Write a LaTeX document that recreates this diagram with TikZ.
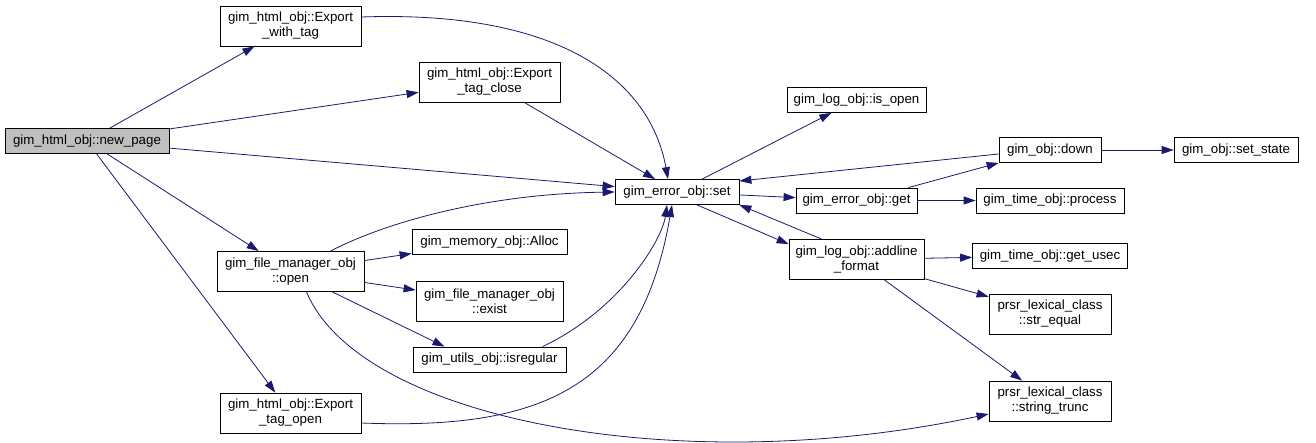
\documentclass[tikz,border=0pt]{standalone}
\usepackage{fontspec}
\setmainfont{Liberation Sans}
\usepackage{xcolor}
\usepackage{tikz}
\usetikzlibrary{arrows.meta, positioning, calc}

\definecolor{edgeblue}{RGB}{25,25,112}
\definecolor{callgray}{RGB}{191,191,191}

\begin{document}
\begin{tikzpicture}[
    x=1pt, y=-1pt,
    box/.style={draw, rectangle, fill=white, line width=0.8pt, minimum height=25pt, inner sep=0pt, text centered, align=center, font=\fontsize{13.3pt}{15pt}\selectfont},
    twoline/.style={minimum height=40pt},
    arrow/.style={draw=edgeblue, line width=0.8pt, -{Triangle[length=12pt,width=8pt]}}
]
\useasboundingbox (0,0) rectangle (1316,443);

% Caller
\node (newpage) [box, fill=callgray, minimum width=164pt] at (87,141) {gim\_html\_obj::new\_page};

% First level
\node (withtag) [box, twoline, minimum width=141pt] at (290.5,26) {gim\_html\_obj::Export\\\_with\_tag};
\node (fmopen) [box, twoline, minimum width=147pt] at (290.5,271.5) {gim\_file\_manager\_obj\\::open};
\node (tagopen) [box, twoline, minimum width=141pt] at (290.5,413) {gim\_html\_obj::Export\\\_tag\_open};

% Second level
\node (tagclose) [box, twoline, minimum width=141pt] at (489.5,82) {gim\_html\_obj::Export\\\_tag\_close};
\node (alloc) [box, minimum width=155pt] at (489.5,242) {gim\_memory\_obj::Alloc};
\node (exist) [box, twoline, minimum width=147pt] at (489.5,301) {gim\_file\_manager\_obj\\::exist};
\node (isregular) [box, minimum width=153pt] at (489.5,359.5) {gim\_utils\_obj::isregular};
\node (errset) [box, minimum width=124pt] at (677,192) {gim\_error\_obj::set};

% Third level
\node (isopen) [box, minimum width=139pt] at (856.5,100) {gim\_log\_obj::is\_open};
\node (errget) [box, minimum width=121pt] at (856.5,200.5) {gim\_error\_obj::get};
\node (addline) [box, twoline, minimum width=135pt] at (856.5,259.5) {gim\_log\_obj::addline\\\_format};

% Fourth level
\node (down) [box, minimum width=102pt] at (1050,150) {gim\_obj::down};
\node (process) [box, minimum width=148pt] at (1050,200.5) {gim\_time\_obj::process};
\node (getusec) [box, minimum width=155pt] at (1050,256) {gim\_time\_obj::get\_usec};
\node (strequal) [box, twoline, minimum width=122pt] at (1050,314) {prsr\_lexical\_class\\::str\_equal};
\node (strtrunc) [box, twoline, minimum width=122pt] at (1050,401) {prsr\_lexical\_class\\::string\_trunc};
\node (setstate) [box, minimum width=124pt] at (1236,150) {gim\_obj::set\_state};

% Calls of new_page
\draw [arrow] (newpage) -- (withtag);
\draw [arrow] (newpage) -- (tagclose);
\draw [arrow] (newpage) -- (errset);
\draw [arrow] (newpage) -- (fmopen);
\draw [arrow] (newpage) -- (tagopen);

% Calls into gim_error_obj::set
\draw [arrow] ([yshift=9pt]withtag.east) .. controls (560,10) and (650,80) .. ([xshift=-9pt]errset.north);
\draw [arrow] (tagclose) -- (errset);
\draw [arrow] ([xshift=40pt]fmopen.north) .. controls (380,225) and (480,194) .. (errset.west);
\draw [arrow] ([xshift=53pt]isregular.north) .. controls (620,310) and (662,240) .. ([xshift=-10pt]errset.south);
\draw [arrow] ([yshift=-10pt]tagopen.east) .. controls (540,430) and (640,390) .. ([xshift=-5pt]errset.south);
\draw [arrow] ([yshift=-4pt]down.west) -- ([yshift=11pt]errset.east);
\draw [arrow] ([xshift=33pt]addline.north west) -- (errset.south east);

% Calls of gim_file_manager_obj::open
\draw [arrow] (fmopen) -- (alloc);
\draw [arrow] (fmopen) -- (exist);
\draw [arrow] (fmopen) -- ([xshift=-45pt]isregular.north);
\draw [arrow] ([xshift=16pt]fmopen.south) .. controls (360,420) and (680,480) .. ([yshift=-13pt]strtrunc.west);

% Calls of gim_error_obj::set
\draw [arrow] (errset) -- (isopen);
\draw [arrow] (errset) -- (errget);
\draw [arrow] ([xshift=20pt]errset.south) -- ([yshift=-5pt]addline.north west);

% Calls of get, down and addline
\draw [arrow] ([xshift=-9pt]errget.north east) -- (down.south west);
\draw [arrow] (errget) -- (process);
\draw [arrow] (down) -- (setstate);
\draw [arrow] (addline) -- (getusec);
\draw [arrow] (addline) -- (strequal);
\draw [arrow] (addline) -- (strtrunc);

\end{tikzpicture}
\end{document}
